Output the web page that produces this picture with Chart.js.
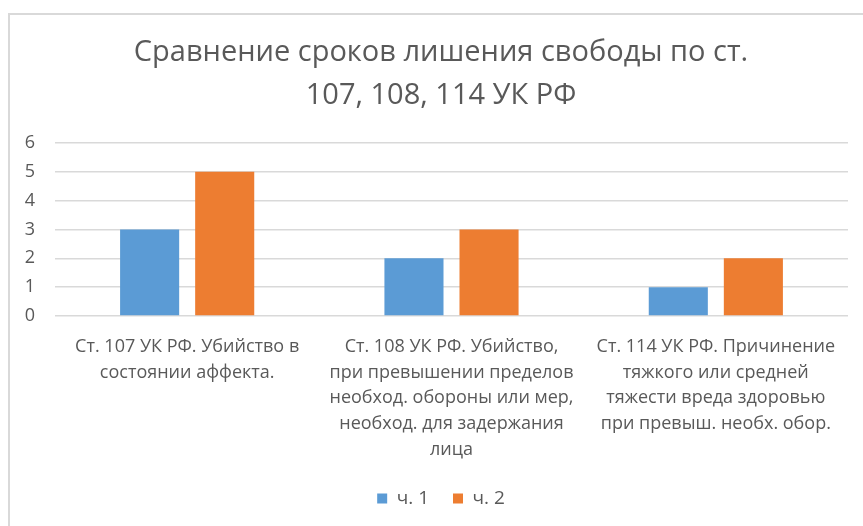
<!DOCTYPE html>
<html>
<head>
<meta charset="utf-8">
<script src="https://cdn.jsdelivr.net/npm/chart.js@4/dist/chart.umd.min.js"></script>
<style>
  html, body { margin: 0; padding: 0; background: #ffffff; }
  #wrap { position: relative; width: 863px; height: 526px; }
  #frame { position: absolute; left: 8px; top: 13px; right: 0; bottom: 0;
           border-left: 2px solid #d9d9d9; border-top: 2px solid #d9d9d9; pointer-events: none; }
  canvas { position: absolute; left: 0; top: 0; }
</style>
</head>
<body>
<div id="wrap">
  <canvas id="c" width="863" height="526"></canvas>
  <div id="frame"></div>
</div>
<script>
const titleLines = ["Сравнение сроков лишения свободы по ст.", "107, 108, 114 УК РФ"];
const categories = [
  ["Ст. 107 УК РФ. Убийство в", "состоянии аффекта."],
  ["Ст. 108 УК РФ. Убийство,", "при превышении пределов", "необход. обороны или мер,", "необход. для задержания", "лица"],
  ["Ст. 114 УК РФ. Причинение", "тяжкого или средней", "тяжести вреда здоровью", "при превыш. необх. обор."]
];
const seriesNames = ["ч. 1", "ч. 2"];
const part1 = [3, 2, 1];
const part2 = [5, 3, 2];
const yMin = 0, yMax = 6, yStep = 1;

const FONT = "'Open Sans', 'Noto Sans', sans-serif";
const TEXT = "#595959";

new Chart(document.getElementById("c"), {
  type: "bar",
  data: {
    labels: categories,
    datasets: [
      { label: seriesNames[0], data: part1, backgroundColor: "#5B9BD5",
        categoryPercentage: 0.568, barPercentage: 0.787 },
      { label: seriesNames[1], data: part2, backgroundColor: "#ED7D31",
        categoryPercentage: 0.568, barPercentage: 0.787 }
    ]
  },
  options: {
    responsive: false,
    animation: false,
    layout: { padding: { left: 21, right: 2, top: 0, bottom: 8 } },
    plugins: {
      title: {
        display: true,
        text: titleLines,
        color: TEXT,
        font: { family: FONT, size: 29, weight: "normal", lineHeight: 43 / 29 },
        padding: { top: 31, bottom: 26 }
      },
      legend: {
        display: true,
        position: "bottom",
        labels: {
          color: TEXT,
          font: { family: FONT, size: 19 },
          boxWidth: 10, boxHeight: 10,
          padding: 24
        }
      },
      tooltip: { enabled: false }
    },
    scales: {
      x: {
        grid: { display: false, drawTicks: false },
        border: { display: false },
        ticks: {
          color: TEXT,
          font: { family: FONT, size: 18, lineHeight: 25.7 / 18 },
          padding: 18,
          maxRotation: 0, autoSkip: false
        },
        afterFit: (s) => { s.height = 149; }
      },
      y: {
        min: yMin, max: yMax,
        grid: { color: "#d9d9d9", lineWidth: 1.5, drawTicks: false },
        border: { display: false },
        ticks: {
          stepSize: yStep,
          color: TEXT,
          font: { family: FONT, size: 18 },
          padding: 20
        },
        afterFit: (s) => { s.width = 34; }
      },
      y2: {
        position: "right",
        display: true,
        min: yMin, max: yMax,
        grid: { display: false, drawTicks: false },
        border: { display: false },
        ticks: { display: false },
        afterFit: (s) => { s.width = 13; }
      }
    }
  }
});
</script>
</body>
</html>
